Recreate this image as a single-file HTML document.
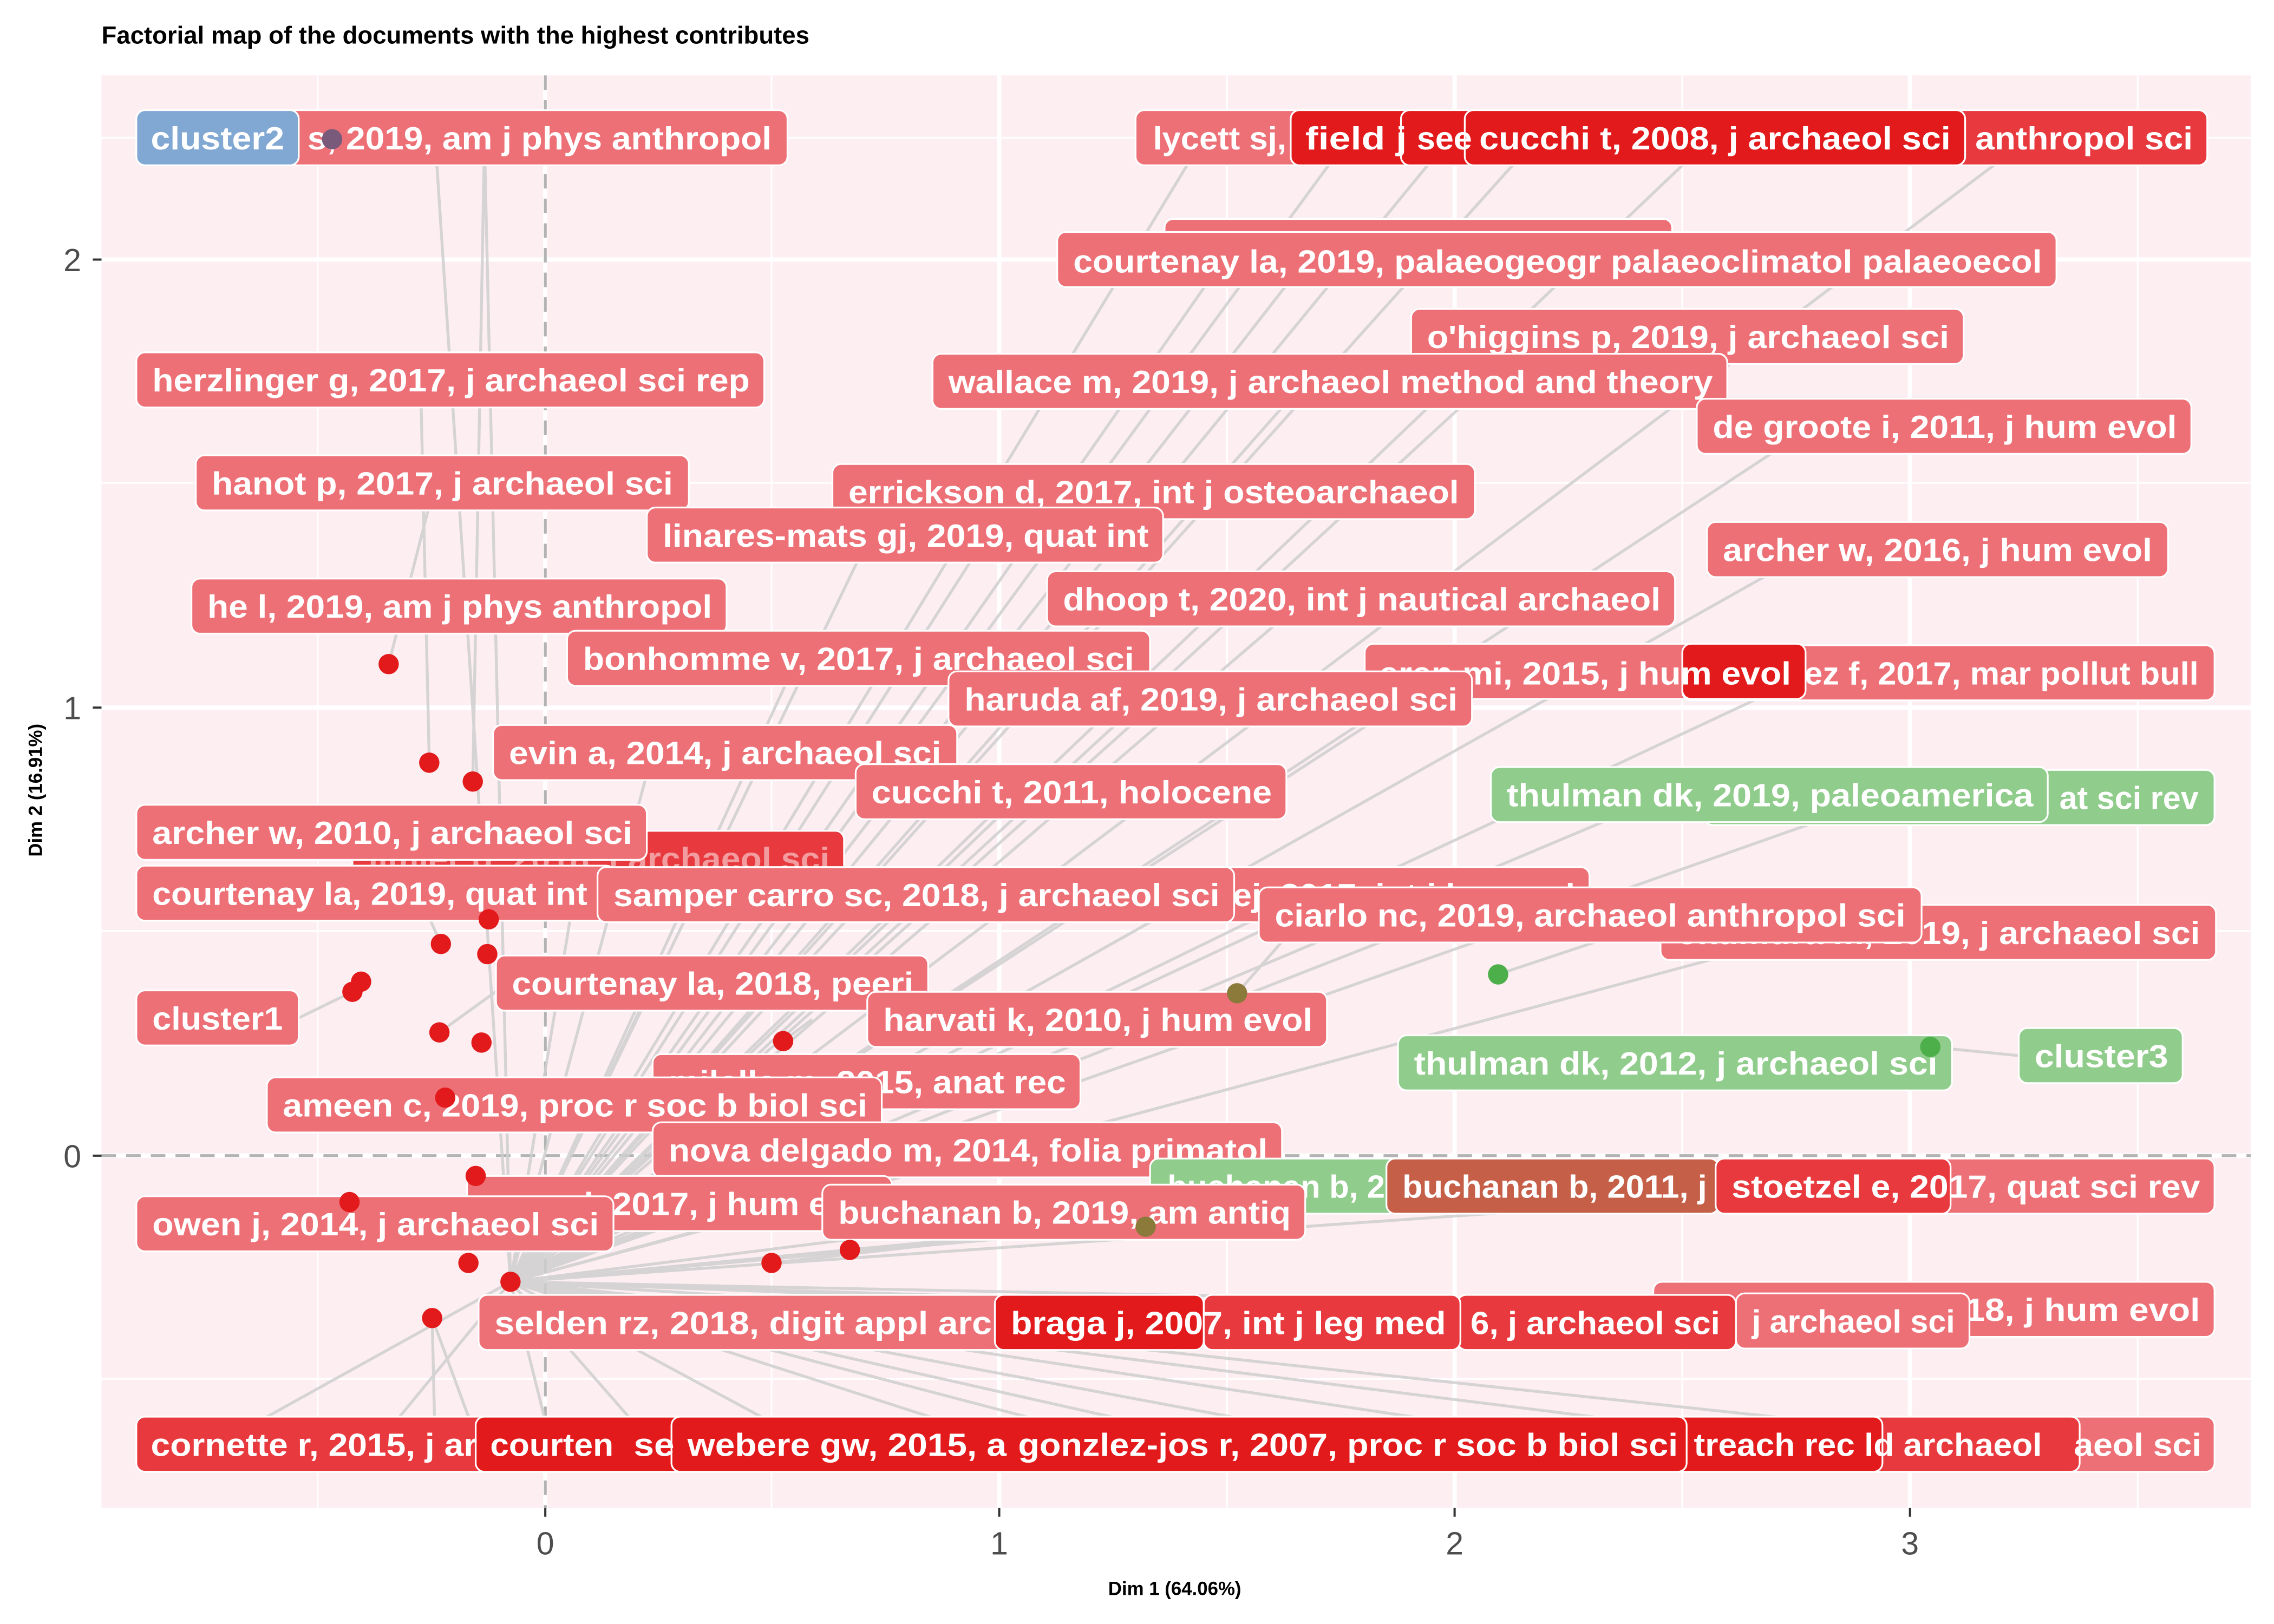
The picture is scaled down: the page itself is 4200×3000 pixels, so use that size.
<!DOCTYPE html>
<html><head><meta charset="utf-8"><style>
html,body{margin:0;padding:0;background:#fff;}
svg{display:block;}
.t{font-family:"Liberation Sans",sans-serif;font-size:22px;font-weight:bold;fill:#fff;}
.L{fill:#ee7077;stroke:#fff;stroke-width:1.2;}
.M{fill:#e8393e;stroke:#fff;stroke-width:1.2;}
.D{fill:#e31a1c;stroke:#fff;stroke-width:1.2;}
.G{fill:#90cc8b;stroke:#fff;stroke-width:1.2;}
.B{fill:#80a8d2;stroke:#fff;stroke-width:1.2;}
.R{fill:#c55f48;stroke:#fff;stroke-width:1.2;}
.c{stroke:#cfcfcf;stroke-width:2;fill:none;opacity:.85;}
.ax{font-family:"Liberation Sans",sans-serif;font-size:22px;fill:#4d4d4d;}
</style></head><body>
<svg width="4200" height="3000" viewBox="0 0 1568 1120" preserveAspectRatio="none" xmlns="http://www.w3.org/2000/svg">
<rect width="1568" height="1120" fill="#fff"/>
<text x="70" y="30" font-family="Liberation Sans,sans-serif" font-size="17" font-weight="bold" fill="#000">Factorial map of the documents with the highest contributes</text>
<rect x="70" y="52" width="1482" height="988" fill="#fdeef2"/>
<g stroke="#fff" stroke-width="1.2">
<line x1="219" y1="52" x2="219" y2="1040"/><line x1="532" y1="52" x2="532" y2="1040"/><line x1="846" y1="52" x2="846" y2="1040"/><line x1="1160" y1="52" x2="1160" y2="1040"/><line x1="1474" y1="52" x2="1474" y2="1040"/>
<line x1="70" y1="951" x2="1552" y2="951"/><line x1="70" y1="642" x2="1552" y2="642"/><line x1="70" y1="333" x2="1552" y2="333"/><line x1="70" y1="95" x2="1552" y2="95"/>
</g>
<g stroke="#fff" stroke-width="3">
<line x1="376" y1="52" x2="376" y2="1040"/><line x1="689" y1="52" x2="689" y2="1040"/><line x1="1003" y1="52" x2="1003" y2="1040"/><line x1="1317" y1="52" x2="1317" y2="1040"/>
<line x1="70" y1="179" x2="1552" y2="179"/><line x1="70" y1="488" x2="1552" y2="488"/><line x1="70" y1="797" x2="1552" y2="797"/>
</g>
<line x1="376" y1="52" x2="376" y2="1040" stroke="#b3b3b3" stroke-width="2" stroke-dasharray="10,7"/>
<line x1="70" y1="797" x2="1552" y2="797" stroke="#b3b3b3" stroke-width="2" stroke-dasharray="10,7"/>
<g class="c">
<path d="M352 884L300 95M352 884L334 95M352 884L830 95M352 884L930 95M352 884L1000 95M352 884L1060 95M352 884L1180 95M352 884L1400 95"/>
<path d="M352 884L850 170M352 884L900 180M352 884L1060 232M352 884L900 263M352 884L1250 294M352 884L700 339M352 884L600 369M352 884L1250 379M352 884L900 413M352 884L550 454M352 884L1000 463M352 884L1250 464M352 884L800 482M352 884L450 519M352 884L700 546M352 884L1150 548M352 884L1300 550M352 884L400 592M352 884L600 617M352 884L900 617M352 884L1000 631M352 884L1250 643M352 884L450 678M352 884L700 703M352 884L600 746M352 884L600 793"/>
<path d="M352 884L150 996M352 884L260 996M352 884L380 996M352 884L450 996M352 884L560 996M352 884L700 996M352 884L780 996M352 884L850 996M352 884L950 996M352 884L1100 996M352 884L1250 996M352 884L1400 996M352 884L500 912M352 884L800 912M352 884L1100 912M352 884L1250 912M352 884L1300 903M352 884L900 836M352 884L1050 818M352 884L1300 818M352 884L880 818M352 884L550 830"/>
<path d="M268 458L300 333M296 526L290 262M326 539L334 100M243 684L206 702M304 651L270 574M298 909L300 996M298 909L330 996M337 634L360 616M303 712L350 678M307 757L380 746M1331 722L1392 728M1033 672L1120 643M853 685L900 631M790 846L870 836M540 718L560 703M241 829L270 844M586 862L600 836M532 871L1000 818M229 96L206 96"/>
</g>
<g>
<rect class="L" x="94" y="76" width="449" height="38" rx="6"/><text class="t" x="212" y="103" textLength="320" lengthAdjust="spacingAndGlyphs">s, 2019, am j phys anthropol</text>
<rect class="B" x="94" y="76" width="112" height="38" rx="6"/><text class="t" x="104" y="103" textLength="92" lengthAdjust="spacingAndGlyphs">cluster2</text>
<rect class="L" x="783" y="76" width="739" height="38" rx="6"/>
<rect class="M" x="890" y="76" width="632" height="38" rx="6"/>
<rect class="D" x="890" y="76" width="465" height="38" rx="6"/>
<rect class="D" x="966" y="76" width="389" height="38" rx="6"/>
<rect class="D" x="1010" y="76" width="345" height="38" rx="6"/>
<text class="t" x="795" y="103" textLength="92" lengthAdjust="spacingAndGlyphs">lycett sj,</text>
<text class="t" x="900" y="103" textLength="70" lengthAdjust="spacingAndGlyphs">field j</text>
<text class="t" x="977" y="103" textLength="38" lengthAdjust="spacingAndGlyphs">see</text>
<text class="t" x="1020" y="103" textLength="325" lengthAdjust="spacingAndGlyphs">cucchi t, 2008, j archaeol sci</text>
<text class="t" x="1362" y="103" textLength="150" lengthAdjust="spacingAndGlyphs">anthropol sci</text>
<rect class="L" x="803" y="151" width="350" height="38" rx="6"/>
<rect class="L" x="729" y="160" width="689" height="38" rx="6"/><text class="t" x="740" y="188" textLength="668" lengthAdjust="spacingAndGlyphs">courtenay la, 2019, palaeogeogr palaeoclimatol palaeoecol</text>
<rect class="L" x="973" y="213" width="381" height="38" rx="6"/><text class="t" x="984" y="240" textLength="360" lengthAdjust="spacingAndGlyphs">o'higgins p, 2019, j archaeol sci</text>
<rect class="L" x="94" y="243" width="433" height="38" rx="6"/><text class="t" x="105" y="270" textLength="412" lengthAdjust="spacingAndGlyphs">herzlinger g, 2017, j archaeol sci rep</text>
<rect class="L" x="643" y="244" width="548" height="38" rx="6"/><text class="t" x="654" y="271" textLength="527" lengthAdjust="spacingAndGlyphs">wallace m, 2019, j archaeol method and theory</text>
<rect class="L" x="1170" y="275" width="341" height="38" rx="6"/><text class="t" x="1181" y="302" textLength="320" lengthAdjust="spacingAndGlyphs">de groote i, 2011, j hum evol</text>
<rect class="L" x="135" y="314" width="340" height="38" rx="6"/><text class="t" x="146" y="341" textLength="318" lengthAdjust="spacingAndGlyphs">hanot p, 2017, j archaeol sci</text>
<rect class="L" x="574" y="320" width="443" height="38" rx="6"/><text class="t" x="585" y="347" textLength="421" lengthAdjust="spacingAndGlyphs">errickson d, 2017, int j osteoarchaeol</text>
<rect class="L" x="446" y="350" width="356" height="38" rx="6"/><text class="t" x="457" y="377" textLength="335" lengthAdjust="spacingAndGlyphs">linares-mats gj, 2019, quat int</text>
<rect class="L" x="1177" y="360" width="318" height="38" rx="6"/><text class="t" x="1188" y="387" textLength="296" lengthAdjust="spacingAndGlyphs">archer w, 2016, j hum evol</text>
<rect class="L" x="132" y="399" width="369" height="38" rx="6"/><text class="t" x="143" y="426" textLength="348" lengthAdjust="spacingAndGlyphs">he l, 2019, am j phys anthropol</text>
<rect class="L" x="722" y="394" width="433" height="38" rx="6"/><text class="t" x="733" y="421" textLength="412" lengthAdjust="spacingAndGlyphs">dhoop t, 2020, int j nautical archaeol</text>
<rect class="L" x="391" y="435" width="402" height="38" rx="6"/><text class="t" x="402" y="462" textLength="380" lengthAdjust="spacingAndGlyphs">bonhomme v, 2017, j archaeol sci</text>
<rect class="L" x="941" y="444" width="304" height="38" rx="6"/>
<rect class="L" x="1160" y="445" width="367" height="38" rx="6"/>
<rect class="D" x="1160" y="444" width="85" height="38" rx="6"/>
<text class="t" x="951" y="472" textLength="284" lengthAdjust="spacingAndGlyphs">eren mi, 2015, j hum evol</text>
<text class="t" x="1244" y="472" textLength="272" lengthAdjust="spacingAndGlyphs">ez f, 2017, mar pollut bull</text>
<rect class="L" x="654" y="463" width="361" height="38" rx="6"/><text class="t" x="665" y="490" textLength="340" lengthAdjust="spacingAndGlyphs">haruda af, 2019, j archaeol sci</text>
<rect class="L" x="340" y="500" width="320" height="38" rx="6"/><text class="t" x="351" y="527" textLength="298" lengthAdjust="spacingAndGlyphs">evin a, 2014, j archaeol sci</text>
<rect class="L" x="590" y="527" width="297" height="38" rx="6"/><text class="t" x="601" y="554" textLength="276" lengthAdjust="spacingAndGlyphs">cucchi t, 2011, holocene</text>
<rect class="G" x="1175" y="531" width="352" height="38" rx="6"/><text class="t" x="1420" y="558" textLength="96" lengthAdjust="spacingAndGlyphs">at sci rev</text>
<rect class="G" x="1028" y="529" width="384" height="38" rx="6"/><text class="t" x="1039" y="556" textLength="363" lengthAdjust="spacingAndGlyphs">thulman dk, 2019, paleoamerica</text>
<rect class="M" x="243" y="573" width="339" height="38" rx="6"/><text class="t" x="254" y="600" textLength="318" lengthAdjust="spacingAndGlyphs" opacity=".5">limier b, 2018, j archaeol sci</text>
<rect class="L" x="94" y="555" width="352" height="38" rx="6"/><text class="t" x="105" y="582" textLength="331" lengthAdjust="spacingAndGlyphs">archer w, 2010, j archaeol sci</text>
<rect class="L" x="94" y="597" width="330" height="38" rx="6"/><text class="t" x="105" y="624" textLength="300" lengthAdjust="spacingAndGlyphs">courtenay la, 2019, quat int</text>
<rect class="L" x="756" y="598" width="340" height="38" rx="6"/><text class="t" x="850" y="625" textLength="236" lengthAdjust="spacingAndGlyphs">ej, 2017, int j leg med</text>
<rect class="L" x="412" y="598" width="439" height="38" rx="6"/><text class="t" x="423" y="625" textLength="418" lengthAdjust="spacingAndGlyphs">samper carro sc, 2018, j archaeol sci</text>
<rect class="L" x="1145" y="624" width="383" height="38" rx="6"/><text class="t" x="1156" y="651" textLength="361" lengthAdjust="spacingAndGlyphs">okumura m, 2019, j archaeol sci</text>
<rect class="L" x="868" y="612" width="457" height="38" rx="6"/><text class="t" x="879" y="639" textLength="435" lengthAdjust="spacingAndGlyphs">ciarlo nc, 2019, archaeol anthropol sci</text>
<rect class="L" x="342" y="659" width="298" height="38" rx="6"/><text class="t" x="353" y="686" textLength="277" lengthAdjust="spacingAndGlyphs">courtenay la, 2018, peerj</text>
<rect class="L" x="94" y="683" width="112" height="38" rx="6"/><text class="t" x="105" y="710" textLength="90" lengthAdjust="spacingAndGlyphs">cluster1</text>
<rect class="L" x="598" y="684" width="317" height="38" rx="6"/><text class="t" x="609" y="711" textLength="296" lengthAdjust="spacingAndGlyphs">harvati k, 2010, j hum evol</text>
<rect class="G" x="964" y="714" width="382" height="38" rx="6"/><text class="t" x="975" y="741" textLength="361" lengthAdjust="spacingAndGlyphs">thulman dk, 2012, j archaeol sci</text>
<rect class="G" x="1392" y="709" width="113" height="38" rx="6"/><text class="t" x="1403" y="736" textLength="92" lengthAdjust="spacingAndGlyphs">cluster3</text>
<rect class="L" x="450" y="727" width="295" height="38" rx="6"/><text class="t" x="461" y="754" textLength="274" lengthAdjust="spacingAndGlyphs">milella m, 2015, anat rec</text>
<rect class="L" x="184" y="743" width="424" height="38" rx="6"/><text class="t" x="195" y="770" textLength="403" lengthAdjust="spacingAndGlyphs">ameen c, 2019, proc r soc b biol sci</text>
<rect class="L" x="450" y="774" width="434" height="38" rx="6"/><text class="t" x="461" y="801" textLength="413" lengthAdjust="spacingAndGlyphs">nova delgado m, 2014, folia primatol</text>
<rect class="G" x="793" y="799" width="170" height="38" rx="6"/><text class="t" x="805" y="826" textLength="150" lengthAdjust="spacingAndGlyphs">buchanan b, 2</text>
<rect class="R" x="956" y="799" width="229" height="38" rx="6"/><text class="t" x="967" y="826" textLength="210" lengthAdjust="spacingAndGlyphs">buchanan b, 2011, j</text>
<rect class="L" x="1183" y="799" width="344" height="38" rx="6"/>
<rect class="M" x="1183" y="799" width="162" height="38" rx="6"/><text class="t" x="1194" y="826" textLength="323" lengthAdjust="spacingAndGlyphs">stoetzel e, 2017, quat sci rev</text>
<rect class="L" x="322" y="811" width="293" height="38" rx="6"/><text class="t" x="333" y="838" textLength="272" lengthAdjust="spacingAndGlyphs">cerny l, 2017, j hum evol</text>
<rect class="L" x="567" y="817" width="333" height="38" rx="6"/><text class="t" x="578" y="844" textLength="312" lengthAdjust="spacingAndGlyphs">buchanan b, 2019, am antiq</text>
<rect class="L" x="94" y="825" width="329" height="38" rx="6"/><text class="t" x="105" y="852" textLength="308" lengthAdjust="spacingAndGlyphs">owen j, 2014, j archaeol sci</text>
<rect class="L" x="1140" y="884" width="387" height="38" rx="6"/><text class="t" x="1355" y="911" textLength="162" lengthAdjust="spacingAndGlyphs">18, j hum evol</text>
<rect class="L" x="330" y="893" width="380" height="38" rx="6"/><text class="t" x="341" y="920" textLength="358" lengthAdjust="spacingAndGlyphs">selden rz, 2018, digit appl arch</text>
<rect class="L" x="1197" y="892" width="161" height="38" rx="6"/><text class="t" x="1208" y="919" textLength="140" lengthAdjust="spacingAndGlyphs">j archaeol sci</text>
<rect class="M" x="1005" y="893" width="192" height="38" rx="6"/><text class="t" x="1014" y="920" textLength="172" lengthAdjust="spacingAndGlyphs">6, j archaeol sci</text>
<rect class="M" x="830" y="893" width="177" height="38" rx="6"/>
<rect class="D" x="686" y="893" width="144" height="38" rx="6"/><text class="t" x="697" y="920" textLength="300" lengthAdjust="spacingAndGlyphs">braga j, 2007, int j leg med</text>
<rect class="L" x="94" y="977" width="1433" height="38" rx="6"/>
<rect class="M" x="94" y="977" width="1340" height="38" rx="6"/>
<rect class="D" x="328" y="977" width="970" height="38" rx="6"/>
<rect class="D" x="463" y="977" width="700" height="38" rx="6"/>
<text class="t" x="104" y="1004" textLength="225" lengthAdjust="spacingAndGlyphs">cornette r, 2015, j ar</text>
<text class="t" x="338" y="1004" textLength="85" lengthAdjust="spacingAndGlyphs">courten</text>
<text class="t" x="437" y="1004" textLength="28" lengthAdjust="spacingAndGlyphs">se</text>
<text class="t" x="474" y="1004" textLength="220" lengthAdjust="spacingAndGlyphs">webere gw, 2015, a</text>
<text class="t" x="702" y="1004" textLength="455" lengthAdjust="spacingAndGlyphs">gonzlez-jos r, 2007, proc r soc b biol sci</text>
<text class="t" x="1168" y="1004" textLength="240" lengthAdjust="spacingAndGlyphs">treach rec ld archaeol</text>
<text class="t" x="1430" y="1004" textLength="88" lengthAdjust="spacingAndGlyphs">aeol sci</text>
</g>
<g fill="#e31a1c">
<circle cx="268" cy="458" r="7"/><circle cx="296" cy="526" r="7"/><circle cx="326" cy="539" r="7"/><circle cx="337" cy="634" r="7"/><circle cx="304" cy="651" r="7"/><circle cx="336" cy="658" r="7"/><circle cx="249" cy="677" r="7"/><circle cx="243" cy="684" r="7"/><circle cx="303" cy="712" r="7"/><circle cx="332" cy="719" r="7"/><circle cx="540" cy="718" r="7"/><circle cx="307" cy="757" r="7"/><circle cx="328" cy="811" r="7"/><circle cx="241" cy="829" r="7"/><circle cx="323" cy="871" r="7"/><circle cx="352" cy="884" r="7"/><circle cx="532" cy="871" r="7"/><circle cx="586" cy="862" r="7"/><circle cx="298" cy="909" r="7"/>
</g>
<circle cx="853" cy="685" r="7" fill="#8c7a3a"/><circle cx="790" cy="846" r="7" fill="#8c7a3a"/>
<circle cx="1033" cy="672" r="7" fill="#4daf4a"/><circle cx="1331" cy="722" r="7" fill="#4daf4a"/>
<circle cx="229" cy="96" r="7" fill="#7a5a7a"/>
<g stroke="#333" stroke-width="1.5">
<line x1="64" y1="179" x2="70" y2="179"/><line x1="64" y1="488" x2="70" y2="488"/><line x1="64" y1="797" x2="70" y2="797"/>
<line x1="376" y1="1040" x2="376" y2="1046"/><line x1="689" y1="1040" x2="689" y2="1046"/><line x1="1003" y1="1040" x2="1003" y2="1046"/><line x1="1317" y1="1040" x2="1317" y2="1046"/>
</g>
<text class="ax" x="56" y="187" text-anchor="end">2</text><text class="ax" x="56" y="496" text-anchor="end">1</text><text class="ax" x="56" y="805" text-anchor="end">0</text>
<text class="ax" x="376" y="1072" text-anchor="middle">0</text><text class="ax" x="689" y="1072" text-anchor="middle">1</text><text class="ax" x="1003" y="1072" text-anchor="middle">2</text><text class="ax" x="1317" y="1072" text-anchor="middle">3</text>
<text x="810" y="1100" text-anchor="middle" font-family="Liberation Sans,sans-serif" font-size="13" font-weight="bold">Dim 1 (64.06%)</text>
<text transform="translate(29,545) rotate(-90)" text-anchor="middle" font-family="Liberation Sans,sans-serif" font-size="13" font-weight="bold">Dim 2 (16.91%)</text>
</svg>
</body></html>
